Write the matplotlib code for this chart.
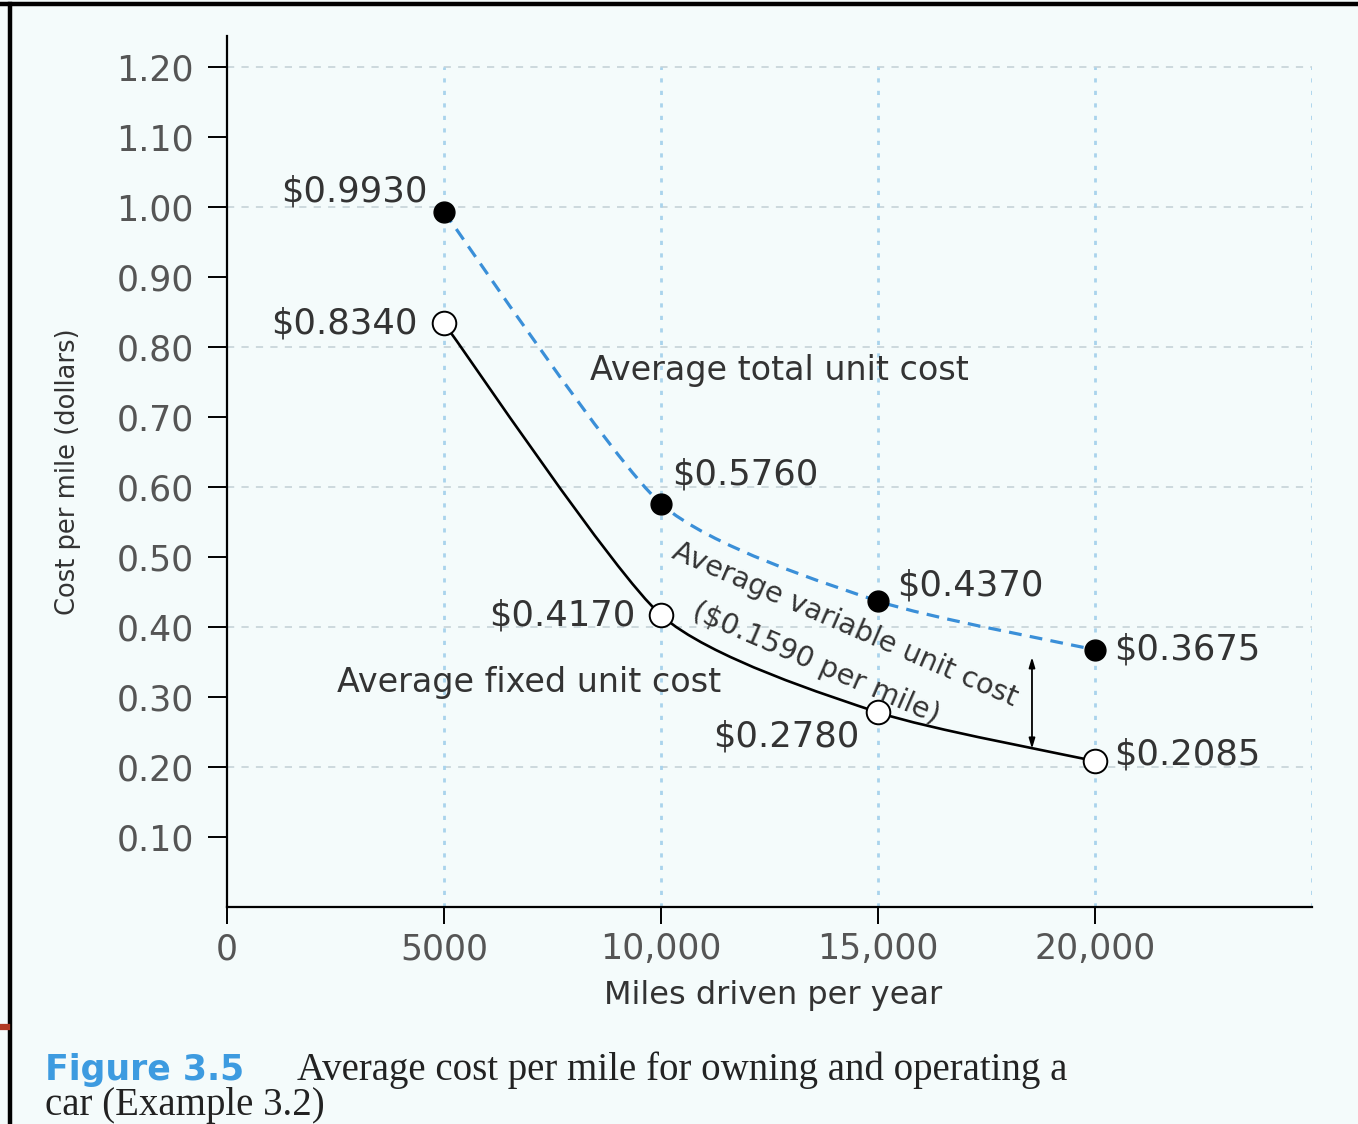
import matplotlib.pyplot as plt
import numpy as np
from matplotlib.path import Path
from matplotlib.patches import PathPatch
from matplotlib.lines import Line2D

# data: average cost per mile for a car
miles = [5000, 10000, 15000, 20000]
total_cost = [0.9930, 0.5760, 0.4370, 0.3675]
fixed_cost = [0.8340, 0.4170, 0.2780, 0.2085]
variable_cost = 0.1590

xticks = [0, 5000, 10000, 15000, 20000]
xticklabels = ["0", "5000", "10,000", "15,000", "20,000"]
yticks = [0.10, 0.20, 0.30, 0.40, 0.50, 0.60, 0.70, 0.80, 0.90, 1.00, 1.10, 1.20]
grid_y = [0.20, 0.40, 0.60, 0.80, 1.00, 1.20]
grid_x = [5000, 10000, 15000, 20000, 25000]

W, H = 1358, 1124
bg = "#f4fbfb"
txt = "#333333"
blue = "#3a8fd8"

plt.rcParams['font.family'] = ['DejaVu Sans']

fig = plt.figure(figsize=(W / 100, H / 100), dpi=100, facecolor=bg)
ax = fig.add_axes([227 / W, 1 - 907 / H, 1085 / W, (907 - 35.5) / H])
ax.set_facecolor(bg)
ax.set_xlim(0, 25000)
ax.set_ylim(0, 1.245)


def smooth_path(xs, ys, k=0.11):
    # catmull-rom style curve through the points, as cubic bezier pieces
    pts = np.column_stack([xs, ys]).astype(float)
    n = len(pts)
    verts = [pts[0]]
    codes = [Path.MOVETO]
    for i in range(n - 1):
        p0 = pts[max(i - 1, 0)]
        p1 = pts[i]
        p2 = pts[i + 1]
        p3 = pts[min(i + 2, n - 1)]
        c1 = p1 + (p2 - p0) * k
        c2 = p2 - (p3 - p1) * k
        verts += [c1, c2, p2]
        codes += [Path.CURVE4] * 3
    return Path(verts, codes)


# grid
ax.hlines(grid_y, 0, 25000, colors="#c9d6da", linestyles=(0, (4, 4)), lw=1.3, zorder=0)
ax.vlines(grid_x, 0, 1.2, colors="#a9d3ec", linestyles=(0, (1.5, 3)), lw=2.0, zorder=0)

# curves
ax.add_patch(PathPatch(smooth_path(miles, fixed_cost), fill=False, ec="black", lw=1.9, zorder=2))
ax.add_patch(PathPatch(smooth_path(miles, total_cost), fill=False, ec=blue, lw=2.3,
                       linestyle=(0, (4, 2.6)), zorder=2))
ax.plot(miles, total_cost, "o", color="black", ms=15, zorder=3)
ax.plot(miles, fixed_cost, "o", mfc="white", mec="black", mew=1.4, ms=17, zorder=3)

# value labels
tot_off = [(-16, 20, "right"), (11, 29, "left"), (19, 16, "left"), (19, 0, "left")]
fix_off = [(-26, 0, "right"), (-26, 0, "right"), (-18, -24, "right"), (19, 7, "left")]
for x, v, (dx, dy, ha) in zip(miles, total_cost, tot_off):
    ax.annotate(f"${v:.4f}", (x, v), xytext=(dx, dy), textcoords="offset pixels",
                ha=ha, va="center", fontsize=25.5, color=txt)
for x, v, (dx, dy, ha) in zip(miles, fixed_cost, fix_off):
    ax.annotate(f"${v:.4f}", (x, v), xytext=(dx, dy), textcoords="offset pixels",
                ha=ha, va="center", fontsize=25.5, color=txt)

ax.text(8364, 0.766, "Average total unit cost", fontsize=24, color=txt, va="center")
ax.text(2535, 0.321, "Average fixed unit cost", fontsize=24, color=txt, va="center")
ax.text(10207, 0.499, "Average variable unit cost", fontsize=20.5, color=txt,
        rotation=-23.5, rotation_mode="anchor", ha="left", va="baseline")
ax.text(10668, 0.414, f"(${variable_cost:.4f} per mile)", fontsize=20.5, color=txt,
        rotation=-23.5, rotation_mode="anchor", ha="left", va="baseline")

# variable cost gap arrow
ax.annotate("", xy=(18548, 0.226), xytext=(18548, 0.357),
            arrowprops=dict(arrowstyle="<|-|>,head_length=0.6,head_width=0.18",
                            color="black", lw=1.3, shrinkA=0, shrinkB=0))

# axes
for s in ["top", "right"]:
    ax.spines[s].set_visible(False)
for s in ["left", "bottom"]:
    ax.spines[s].set_linewidth(1.6)
ax.set_xticks(xticks)
ax.set_xticklabels(xticklabels)
ax.set_yticks(yticks)
ax.set_yticklabels([f"{t:.2f}" for t in yticks])
ax.tick_params(axis="y", length=14, width=1.4, pad=10, labelsize=25, labelcolor="#555555")
ax.tick_params(axis="x", length=12, width=1.4, pad=6, labelsize=25, labelcolor="#555555")

ax.set_xlabel("Miles driven per year", fontsize=23, color=txt)
ax.xaxis.set_label_coords(0.503, -0.101)
ax.xaxis.label.set_va("center")
ax.set_ylabel("Cost per mile (dollars)", fontsize=18.5, color=txt)
ax.yaxis.set_label_coords(-0.1465, 0.5)
ax.yaxis.label.set_va("center")

# caption
fig.text(45 / W, 1 - 1080 / H, "Figure 3.5", fontsize=25, fontweight="bold",
         color="#3d9be0", va="baseline")
fig.text(297 / W, 1 - 1080 / H, "Average cost per mile for owning and operating a",
         fontsize=28, family="Liberation Serif", color="#222222", va="baseline")
fig.text(45 / W, 1 - 1115 / H, "car (Example 3.2)",
         fontsize=28, family="Liberation Serif", color="#222222", va="baseline")

# page frame
fig.add_artist(Line2D([0, 1], [1 - 4 / H, 1 - 4 / H], color="black", lw=3.2))
fig.add_artist(Line2D([10 / W, 10 / W], [0, 1 - 4 / H], color="black", lw=3.2))
fig.add_artist(Line2D([0, 7 / W], [1 - 1027 / H, 1 - 1027 / H], color="#b03a24", lw=4.5))

fig.savefig("out.png", dpi=100, facecolor=bg)
